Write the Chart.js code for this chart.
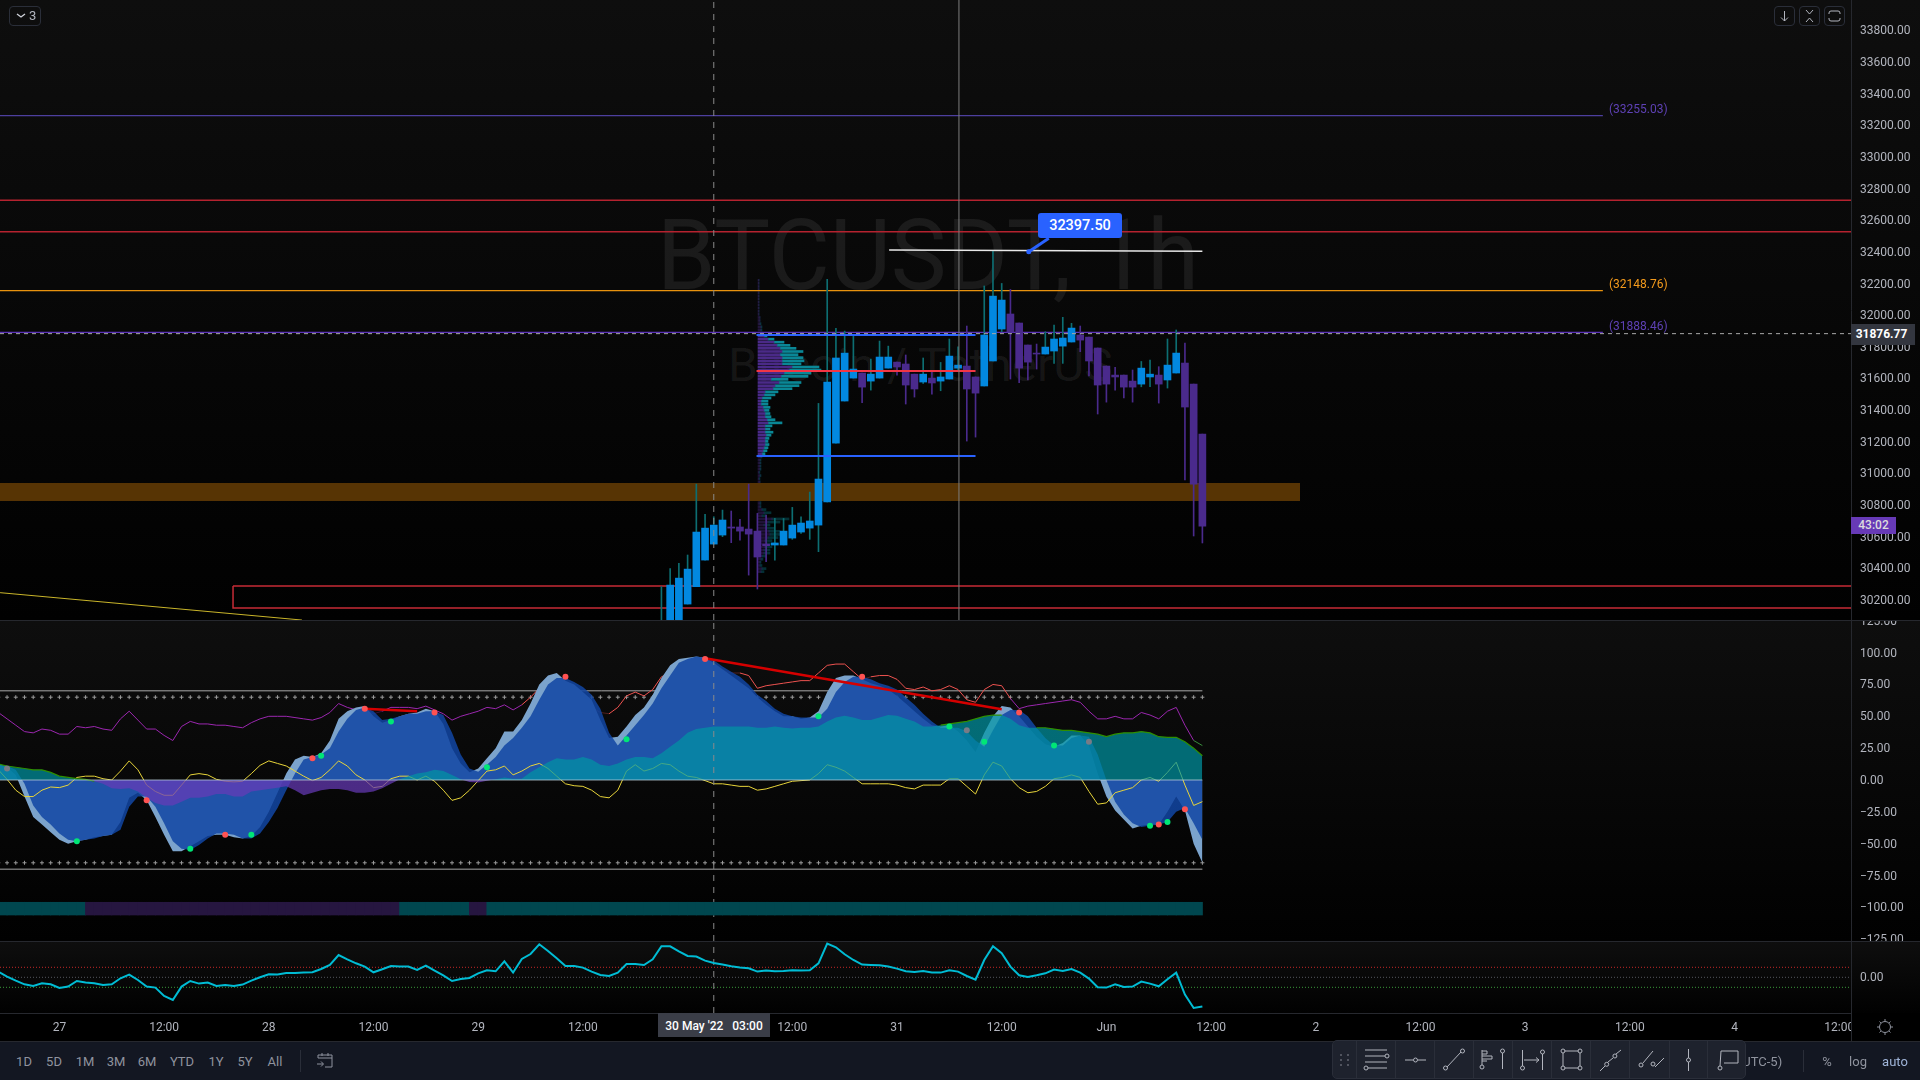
<!DOCTYPE html>
<html>
<head>
<meta charset="utf-8">
<title>BTCUSDT, 1h</title>
<script src="https://cdn.jsdelivr.net/npm/chart.js@4"></script>
<style>
    html, body { margin: 0; background: #000; }
    #stage { position: relative; width: 1920px; height: 1080px; overflow: hidden; font-family: Roboto, sans-serif; color: #b2b5be; }
    #stage canvas { position: absolute; left: 0; }
    .abs { position: absolute; }
    .paneBg { position: absolute; left: 0; width: 1920px; background: linear-gradient(#0e0e0e, #010101); }
    .sep { position: absolute; left: 0; width: 1920px; height: 1px; background: #26282e; }
    .mark { position: absolute; color: rgba(255,255,255,0.075); white-space: nowrap; transform-origin: left top; }
    .note { position: absolute; font-size: 12px; white-space: nowrap; }
    .tbBtn { position: absolute; top: 1054px; font-size: 13px; color: #8f939e; transform: translateX(-50%); }
    .iconBtn { position: absolute; top: 6px; width: 21px; height: 20px; border: 1px solid #2a2e39; border-radius: 4px; box-sizing: border-box; }
</style>
</head>
<body>
<div id="stage">
    <div class="paneBg" style="top:0;height:620px"></div>
    <div class="paneBg" style="top:620px;height:321px"></div>
    <div class="paneBg" style="top:941px;height:72px"></div>

    <div class="mark" style="left:657px;top:198px;font-size:98px;transform:scaleX(0.957)">BTCUSDT, 1h</div>
    <div class="mark" style="left:728px;top:338px;font-size:46px;transform:scaleX(1.04)">Bitcoin / TetherUS</div>

    <canvas id="vpChart" width="1851" height="620" style="top:0"></canvas>
    <canvas id="mainChart" width="1920" height="620" style="top:0"></canvas>
    <canvas id="oscChart" width="1920" height="321" style="top:620px"></canvas>
    <canvas id="momChart" width="1920" height="100" style="top:941px"></canvas>

    <div class="sep" style="top:620px"></div>
    <div class="sep" style="top:941px"></div>
    <div class="sep" style="top:1013px"></div>

    <!-- line notes -->
    <div class="note" style="left:1609px;top:102px;color:#5e41b5">(33255.03)</div>
    <div class="note" style="left:1609px;top:277px;color:#f59b1c">(32148.76)</div>
    <div class="note" style="left:1609px;top:319px;color:#5e41b5">(31888.46)</div>

    <!-- callout -->
    <div class="abs" style="left:1038px;top:213px;width:84px;height:25px;background:#2962ff;border-radius:3px;color:#fff;font-size:14.5px;font-weight:500;line-height:25px;text-align:center">32397.50</div>

    <!-- price tags -->
    <div class="abs" style="left:1851px;top:324px;width:64px;height:21px;background:#33363f;color:#fff;font-size:12px;font-weight:700;line-height:21px;text-align:center;padding-right:3px;box-sizing:border-box">31876.77</div>
    <div class="abs" style="left:1851px;top:517px;width:45px;height:17px;background:#673ab7;color:#ddd;font-size:12px;font-weight:500;line-height:17px;text-align:center">43:02</div>

    <!-- top buttons -->
    <div class="iconBtn" style="left:9px;top:6px;width:32px;font-size:13px;line-height:18px;padding-left:19px"><svg class="abs" style="left:5px;top:0" width="12" height="18" fill="none" stroke="#d1d4dc" stroke-width="1.3"><path d="M2 7l4 3 4-3"/></svg>3</div>
    <div class="iconBtn" style="left:1774px"><svg width="19" height="18" fill="none" stroke="#b2b5be"><path d="M9.5 4v10M6 10.5l3.5 3.5 3.5-3.5"/></svg></div>
    <div class="iconBtn" style="left:1799px"><svg width="19" height="18" fill="none" stroke="#b2b5be"><path d="M6 3l3.5 4 3.5-4M6 15l3.5-4 3.5 4"/></svg></div>
    <div class="iconBtn" style="left:1824px"><svg width="19" height="18" fill="none" stroke="#b2b5be"><path d="M4 7V6a2 2 0 0 1 2-2h7a2 2 0 0 1 2 2v1M4 11v1a2 2 0 0 0 2 2h7a2 2 0 0 0 2-2v-1"/></svg></div>

    <!-- crosshair time badge -->
    <div class="abs" style="left:658px;top:1013px;width:112px;height:24px;background:#3a3d47;color:#fff;font-size:12px;font-weight:500;line-height:26px;text-align:center;white-space:pre">30 May '22   03:00</div>

    <!-- axis corner -->
    <div class="abs" style="left:1851px;top:1013px;width:69px;height:28px;background:#000;border-left:1px solid #26282e;box-sizing:border-box">
        <svg width="68" height="28" fill="none" stroke="#8f939e"><circle cx="33" cy="14" r="5.5"/><path d="M33 6v2M33 20v2M25 14h2M39 14h2M27.5 8.5l1.4 1.4M37.1 18.1l1.4 1.4M38.5 8.5l-1.4 1.4M28.9 18.1l-1.4 1.4"/></svg>
    </div>

    <!-- bottom toolbar -->
    <div class="abs" style="left:0;top:1041px;width:1920px;height:39px;background:#131722;border-top:1px solid #26282e;box-sizing:border-box"></div>
    <div class="tbBtn" style="left:24px">1D</div>
    <div class="tbBtn" style="left:54px">5D</div>
    <div class="tbBtn" style="left:85px">1M</div>
    <div class="tbBtn" style="left:116px">3M</div>
    <div class="tbBtn" style="left:147px">6M</div>
    <div class="tbBtn" style="left:182px">YTD</div>
    <div class="tbBtn" style="left:216px">1Y</div>
    <div class="tbBtn" style="left:245px">5Y</div>
    <div class="tbBtn" style="left:275px">All</div>
    <div class="abs" style="left:300px;top:1050px;width:1px;height:22px;background:#2a2e39"></div>
    <svg class="abs" style="left:316px;top:1051px" width="20" height="20" fill="none" stroke="#8f939e"><path d="M2 7V4h14v12h-7M2 7h14M6 2v3M12 2v3M1 13h6M5 10.5L7.5 13 5 15.5"/></svg>

    <div class="tbBtn" style="left:1760px;">(UTC-5)</div>
    <div class="abs" style="left:1803px;top:1050px;width:1px;height:22px;background:#2a2e39"></div>
    <div class="tbBtn" style="left:1827px">%</div>
    <div class="tbBtn" style="left:1858px">log</div>
    <div class="tbBtn" style="left:1895px;color:#9fb4d8">auto</div>

    <!-- floating drawing toolbar -->
    <div class="abs" style="left:1332px;top:1040px;width:414px;height:39px;background:#1e222d;border-radius:5px;border:1px solid #2a2e39;box-sizing:border-box"></div>
    <svg class="abs" style="left:1332px;top:1040px" width="414" height="39" fill="none" stroke="#b2b5be">
        <g stroke="#2a2e39"><path d="M24.5 0v39M63.5 0v39M102.5 0v39M141.5 0v39M180.5 0v39M219.5 0v39M258.5 0v39M297.5 0v39M337.5 0v39M375.5 0v39"/></g>
        <g fill="#50535e" stroke="none"><rect x="8" y="14" width="2" height="2"/><rect x="15" y="14" width="2" height="2"/><rect x="8" y="19" width="2" height="2"/><rect x="15" y="19" width="2" height="2"/><rect x="8" y="24" width="2" height="2"/><rect x="15" y="24" width="2" height="2"/></g>
        <path d="M33 10h22M33 16h20M33 22h22M36 28h19"/><circle cx="55" cy="16" r="2"/><circle cx="34" cy="28" r="2"/>
        <path d="M73 20h8M86 20h8"/><circle cx="83.5" cy="20" r="2"/>
        <path d="M115 27l14-15"/><circle cx="113.5" cy="28" r="2"/><circle cx="130.5" cy="11" r="2"/>
        <path d="M150 10v15M150 11h5v3h-5M150 16h10v3h-10M150 21h5"/><circle cx="150" cy="27" r="2"/><path d="M170.5 13v16"/><circle cx="170.5" cy="11" r="2"/>
        <path d="M190.5 10v16M192 20h15M204 17.5l3 2.5-3 2.5M210.5 14v16"/><circle cx="190.5" cy="28" r="2"/><circle cx="210.5" cy="12" r="2"/>
        <path d="M232.5 11h14M232.5 28h14M231 13v13M248 13v13"/><circle cx="231" cy="11" r="2"/><circle cx="248" cy="11" r="2"/><circle cx="231" cy="28" r="2"/><circle cx="248" cy="28" r="2"/>
        <path d="M268 31l5-5M276 22l5-4M284 14l5-4"/><circle cx="274.7" cy="24.3" r="2"/><circle cx="282.9" cy="16" r="2"/>
        <path d="M311 23l10-12M323 27l9-9"/><circle cx="309" cy="25" r="2"/><circle cx="321" cy="24" r="2"/>
        <path d="M356.5 9v9M356.5 22v9"/><circle cx="356.5" cy="20" r="2"/>
        <path d="M388 26l1-15h17v12h-14"/><circle cx="388" cy="28" r="2"/>
    </svg>
</div>

<script>
// BTCUSDT 1h, three stacked panes.
// x is hours since 27 May 00:00

const hours = Array.from({ length: 139 }, (_, i) => i - 7);

const timeTickHours = [0, 12, 24, 36, 48, 60, 72, 84, 96, 108, 120, 132, 144, 156, 168, 180, 192, 204];
const timeTickLabels = ['27', '12:00', '28', '12:00', '29', '12:00', '30', '12:00', '31', '12:00', 'Jun', '12:00', '2', '12:00', '3', '12:00', '4', '12:00'];
const priceTicks = [33800, 33600, 33400, 33200, 33000, 32800, 32600, 32400, 32200, 32000, 31800, 31600, 31400, 31200, 31000, 30800, 30600, 30400, 30200];
const oscTicks = [125, 100, 75, 50, 25, 0, -25, -50, -75, -100, -125];
const momTicks = [0];

// --- Candles, one per hour ---

const candleHours = [69, 70, 71, 72, 73, 74, 75, 76, 77, 78, 79, 80, 81, 82, 83, 84, 85, 86, 87, 88, 89, 90, 91, 92, 93, 94, 95, 96, 97, 98, 99, 100, 101, 102, 103, 104, 105, 106, 107, 108, 109, 110, 111, 112, 113, 114, 115, 116, 117, 118, 119, 120, 121, 122, 123, 124, 125, 126, 127, 128, 129, 130, 131];
const opens = [29772, 30004, 30004, 30168, 30278, 30446, 30547, 30604, 30655, 30655, 30642, 30629, 30547, 30541, 30541, 30585, 30623, 30648, 30667, 30813, 31185, 31451, 31596, 31628, 31577, 31596, 31659, 31697, 31685, 31621, 31571, 31596, 31577, 31590, 31659, 31672, 31603, 31546, 31704, 31906, 32001, 31944, 31805, 31754, 31748, 31767, 31798, 31824, 31868, 31855, 31786, 31672, 31615, 31615, 31577, 31558, 31603, 31615, 31584, 31628, 31691, 31558, 31242];
const highs = [30278, 30393, 30425, 30478, 30926, 30735, 30720, 30762, 30756, 30703, 30926, 30741, 30730, 30709, 30709, 30779, 30720, 30876, 31436, 32220, 31910, 31893, 31868, 31628, 31716, 31830, 31798, 31697, 31742, 31621, 31723, 31636, 31695, 31843, 31794, 31925, 31603, 32178, 32399, 32194, 32156, 31944, 31805, 31811, 31889, 31931, 31980, 31942, 31925, 31855, 31786, 31672, 31664, 31615, 31647, 31701, 31710, 31668, 31843, 31900, 31817, 31558, 31242];
const lows = [29772, 29983, 30004, 30168, 30278, 30446, 30547, 30594, 30556, 30572, 30351, 30263, 30436, 30446, 30541, 30577, 30615, 30577, 30499, 30813, 31185, 31451, 31596, 31440, 31520, 31596, 31659, 31615, 31432, 31476, 31562, 31495, 31516, 31590, 31647, 31198, 31223, 31546, 31704, 31889, 31590, 31567, 31584, 31653, 31748, 31689, 31689, 31824, 31763, 31609, 31369, 31444, 31520, 31470, 31444, 31541, 31541, 31438, 31533, 31628, 30952, 30598, 30554];
const closes = [30004, 30288, 30332, 30389, 30623, 30648, 30667, 30699, 30648, 30629, 30610, 30465, 30537, 30554, 30629, 30667, 30680, 30693, 30958, 31571, 31723, 31754, 31653, 31539, 31621, 31729, 31729, 31666, 31552, 31527, 31621, 31565, 31603, 31735, 31678, 31527, 31501, 31868, 32114, 32089, 31887, 31659, 31697, 31748, 31792, 31843, 31849, 31912, 31836, 31704, 31552, 31558, 31603, 31539, 31539, 31659, 31621, 31558, 31678, 31754, 31413, 30926, 30661];

// --- Volume profile rows ---

const vpPrices = [31862, 31842, 31823, 31803, 31784, 31764, 31744, 31725, 31705, 31686, 31666, 31646, 31627, 31607, 31588, 31568, 31548, 31529, 31509, 31490, 31470, 31450, 31431, 31411, 31392, 31372, 31352, 31333, 31313, 31294, 31274, 31254, 31235, 31215, 31196, 31176, 31156, 31137, 31118];
const vpDown = [6, 10, 16, 19, 22, 24, 22, 24, 24, 24, 34, 31, 26, 23, 13, 21, 17, 15, 7, 6, 4, 3, 3, 5, 6, 7, 7, 9, 10, 7, 7, 7, 8, 7, 7, 7, 6, 5, 4];
const vpUp = [3, 6, 10, 13, 16, 21, 18, 21, 22, 19, 27, 32, 27, 27, 17, 22, 24, 19, 13, 11, 9, 7, 7, 7, 5, 5, 6, 8, 14, 7, 5, 8, 5, 4, 3, 4, 4, 4, 3];

const vpFaintPrices = [32214, 32195, 32175, 32156, 32136, 32116, 32097, 32077, 32058, 32038, 32018, 31999, 31979, 31960, 31940, 31920, 31901, 31881, 31098, 31078, 31059, 31039, 31020, 31000, 30980, 30961, 30941, 30922, 30902, 30882, 30863, 30843, 30824, 30804, 30784, 30765, 30745, 30726, 30706, 30686, 30667, 30647, 30628, 30608, 30588, 30569, 30549, 30530, 30510, 30490, 30471, 30451, 30432, 30412, 30392, 30373];
const vpFaintDown = [1, 1, 1, 1, 1, 1, 1, 1, 1, 1, 1, 1, 2, 2, 2, 3, 3, 3, 3, 2, 2, 2, 2, 1, 2, 1, 2, 2, 2, 1, 2, 2, 2, 2, 2, 4, 6, 4, 14, 10, 6, 8, 11, 12, 10, 7, 9, 7, 6, 6, 4, 3, 2, 2, 4, 3];
const vpFaintUp = [0, 0, 0, 0, 0, 0, 0, 0, 0, 0, 0, 0, 0, 0, 1, 1, 1, 1, 1, 1, 1, 1, 1, 1, 1, 1, 0, 1, 1, 1, 1, 1, 1, 1, 1, 4, 7, 4, 17, 12, 6, 8, 11, 13, 10, 7, 9, 7, 6, 6, 4, 2, 1, 2, 4, 3];

// --- Price levels ---

const purpleLevelHigh = 33255.03;
const redLevelHigh = 32720;
const redLevelLow = 32520;
const orangeLevel = 32148.76;
const purpleLevelLow = 31885;
const lastPrice = 31876.77;
const whiteLinePrices = [32405, 32397];
const whiteLineHours = [95.1, 131];
const brownBandPrices = [30933, 30819];
const redBoxPrices = [30282, 30143];
const redBoxStartHour = 19.9;
const trendLineHours = [-6.8, 27.8];
const trendLinePrices = [30240, 30067];
const vaHigh = 31868;
const poc = 31640;
const vaLow = 31103;
const vpStartHour = 79.9;
const vpEndHour = 105;
const levelEndHour = 176.9;
const bandEndHour = 142.2;
const calloutHours = [111.1, 113.4];
const calloutPrices = [32394, 32479];
const crosshairHour = 75;
const cursorHour = 103.1;

// --- Oscillator pane ---

const wave1 = [13, 10, 4, -13, -29, -35, -41,
    -47, -50, -48, -47, -45, -44, -43, -33, -14, -10,
    -16, -29, -43, -56, -56, -52, -48, -44, -43, -43,
    -45, -46, -44, -37, -25, -10, 5, 16, 19, 18,
    21, 31, 48, 54, 57, 58, 50, 45, 47, 50,
    52, 53, 56, 54, 44, 25, 13, 6, 9, 17,
    25, 38, 38, 47, 60, 75, 82, 84, 78, 75,
    69, 63, 47, 33, 34, 42, 51,
    57, 67, 80, 90, 95, 96, 97, 96, 92, 87, 82, 77, 72, 65, 59, 54, 50, 50, 48, 49, 54, 69, 80, 82, 82, 79, 76, 74, 71, 66, 60, 54, 48, 43, 42, 43, 38, 31, 22, 37, 50, 58, 57, 50, 42, 34, 28, 26, 29, 35, 35, 27, 5, -13, -24, -31, -38, -36, -35, -35, -25, -13, -24, -50, -65];
const wave2 = [12, 11, 8, -3, -20, -29, -35,
    -42, -47, -48, -47, -46, -44, -43, -39, -21, -13,
    -13, -21, -34, -48, -54, -55, -51, -46, -42, -42,
    -43, -46, -46, -42, -33, -22, -8, 5, 16, 18,
    20, 25, 38, 48, 55, 57, 54, 47, 48, 50,
    52, 52, 54, 54, 51, 37, 20, 9, 6.5, 12,
    18, 27, 33, 41, 50, 63, 75, 80, 80, 77,
    73, 67, 56, 37, 27, 35, 43,
    51, 60, 72, 82, 92, 95, 97, 96, 94, 89, 85, 81, 75, 67, 62, 56, 52, 50, 49, 49, 49, 56, 69, 77, 81, 81, 79, 76, 74, 71, 65, 59, 52, 46, 41, 41, 41, 38, 31, 26, 39, 51, 55, 55, 50, 41, 33, 27, 27, 33, 35, 34, 20, 0, -17, -27, -34, -37, -36, -35, -33, -25, -22, -34, -47];
const moneyFlow = [12.5, 11, 10, 9, 8, 8, 6,
    3, 2, 1, 0.5, -1, -3, -6.5, -7, -6.5, -9,
    -14, -18, -20, -20, -17, -14, -14, -13, -11, -11,
    -13, -13, -9, -8, -7, -6, -5, -8, -12, -10,
    -8, -7, -7, -8, -10, -10, -9, -6.5, -3, 0.5,
    3, 5, 6, 8, 7, 4, 0.5, -1.5, -2, -0.5,
    0.5, 2, 1, 1, 6, 10, 14, 17, 16, 16,
    18, 16, 12, 11, 13, 16, 18,
    18, 17, 21, 26, 31, 37, 40, 41, 42, 42, 42, 42, 42, 41, 41, 42, 41, 40.5, 41, 41, 42, 46, 49, 50.5, 49, 47, 47, 49, 51, 50.5, 48, 46, 42, 42, 43, 44, 45, 46, 48, 50, 51, 51, 48, 43, 41, 41, 41, 40, 39, 39, 38, 37, 36, 34, 36, 37, 37, 38, 37, 34, 33.5, 33.5, 30, 25, 19];
const rsi = [53, 48, 43, 38, 37, 40, 39,
    36, 36, 42, 41, 42, 40, 39, 48, 54, 47,
    40, 40, 35, 31, 42, 46, 44, 44, 43, 43,
    42, 41, 45, 48, 50, 50, 50, 49, 48, 47,
    49, 53, 60, 57, 55, 54, 52, 54, 57, 57,
    57, 56, 58, 55, 52, 47, 50, 52, 54, 57,
    56, 59, 55, 59, 65, 72, 74, 69, 62, 63,
    63, 57, 53, 52, 57, 66, 69,
    66, 71, 81, 84, 85, 88, 88, 88, 87, 86, 84, 84, 82, 72, 74, 75, 76, 77, 78, 78, 84, 90, 91, 91, 85, 79, 81, 82, 82, 79, 72, 71, 73, 70, 71, 74, 71, 63, 61, 71, 75, 74, 64, 56, 58, 59, 60, 61, 62, 63, 61, 54, 48, 48, 50, 48, 48, 53, 51, 48, 54, 57, 43, 31, 27];
const stoch = [8, 0.5, -8, -13, -13, -8, -5.5,
    -6, -4, 2, 3, 3, 1, 0, 7, 15, 8,
    -4, -9, -12, -12, -4, 4, 5, 4, 0.5, -1,
    -1.5, -1, 5, 11.5, 15, 13, 11, 7, 3, -0.5,
    2, 8, 15, 11, 4, 0, -6, -5, 1, 3,
    3, 0, 3, -1, -8, -16, -14, -8, -0.5, 7,
    8, 11, 4, 7, 11, 13, 9, 3, -3, -4.5,
    -5, -8, -13, -14, -8, 7, 12,
    7, 9, 13, 12, 7, 3, 2, -0.5, -3, -3, -4, -5, -5, -8, -7, -5, -3, -1, -0.5, 0, 5, 12, 10, 7, 2, -3, -3, -3, -3, -4, -6, -7, -4, -4, -4, 1, 1, -5, -11, 4, 14, 11, 1, -6, -10, -9, -5, 1, 2, 4, 2, -9, -19, -18, -10, -8, -6, 0, 2, -1, 6, 14, -4, -20, -17];

const greenDotHours = [2, 15, 22, 30, 38, 49, 65, 87, 102, 106, 114, 125, 127];
const greenDotValues = [-48, -54, -43, 19, 46, 10, 32, 50, 42, 30, 27, -36, -33];
const redDotHours = [10, 19, 29, 35, 43, 58, 74, 92, 110, 126, 129];
const redDotValues = [-16, -43, 17, 56, 53, 81, 95, 81, 53, -35, -23];
const greyDotHours = [-6, 104, 118];
const greyDotValues = [9, 39, 30];

const divergenceHours = [[35, 41], [74, 108]];
const divergenceValues = [[56, 54], [95.5, 55.5]];

const bandOuter = 70;
const bandInner = 65;
const stripValues = [-106, -96];
const stripPurpleHours = [4, 5, 6, 7, 8, 9, 10, 11, 12, 13, 14, 15, 16, 17, 18, 19, 20, 21, 22, 23, 24, 25, 26, 27, 28, 29, 30, 31, 32, 33, 34, 35, 36, 37, 38, 39, 48, 49];

// --- Momentum pane ---

const momentum = [5.7, 0.7, -3.3, -7, -8.7, -6, -7,
    -10.7, -9.3, -3.7, -5.3, -6, -7.7, -7, -1, 2.7, -2.7,
    -9.3, -10.3, -18.7, -22.7, -9.3, -3.7, -6.3, -5.3, -8.7, -7.7,
    -8.7, -7.3, -3.3, 0, 3, 2.7, 4.3, 4.3, 4.7, 5,
    8.3, 12.3, 22.3, 18, 14, 10.7, 5, 8, 11.3, 10.7,
    10.7, 7.3, 11.7, 6.7, 2, -3.7, -1.7, -0.7, 4, 7,
    6, 16, 4.7, 18.3, 23.3, 33, 26.3, 19, 11.3, 11.3,
    9.7, 5.7, 2.3, 1.3, 4.7, 13.3, 13.3,
    12.3, 18, 31, 31, 26, 21.3, 20.7, 16.7, 14.3, 12.7, 11, 9.7, 9, 5.7, 6.7, 6, 6.3, 7, 6.7, 7, 14, 33.7, 30, 23, 17.3, 12.7, 12.3, 12, 10.7, 8.7, 6, 5.3, 6.3, 4.7, 4.7, 7, 5.7, 1.3, -2.3, 17.3, 31, 24, 10.7, 2, 0.3, 2, 4, 7.7, 6.3, 8.3, 4.7, -1.3, -10, -10.3, -7, -9.7, -9.3, -4.3, -6.3, -9, -2, 4.7, -17.3, -30.7, -29.3];
const momRed = 10;
const momGreen = -10;

// --- Scale ranges (the plot stops at the price axis, x = 1851) ---

const X_MIN = -6.808;
const X_MAX = 205.34;
const PRICE_MIN = 30067.3;
const PRICE_MAX = 33985.2;
const OSC_MIN = -126.4;
const OSC_MAX = 125.6;
const MOM_MIN = -35.7;
const MOM_MAX = 36.3;

const AXIS_WIDTH = 69;
const LINE_GREY = '#26282e';
const TICK_COLOR = '#b2b5be';
const TICK_FONT = { family: 'Roboto', size: 12 };

// --- Helpers ---

function zip(xs, ys) {
    return xs.map((x, i) => ({ x: x, y: ys[i] }));
}

function line(xs, ys, color, width, extra) {
    return Object.assign({
        type: 'line',
        data: zip(xs, ys),
        borderColor: color,
        borderWidth: width,
        pointRadius: 0,
        tension: 0,
        fill: false
    }, extra || {});
}

function level(price, color, width, endHour, extra) {
    return line([X_MIN, endHour], [price, price], color, width, extra);
}

function dots(xs, ys, color) {
    return {
        type: 'line',
        data: zip(xs, ys),
        showLine: false,
        pointRadius: 3,
        pointBackgroundColor: color,
        pointBorderWidth: 0
    };
}

// tick labels must not push the plot area in, the panes butt together
function noMargins(scale) {
    scale.paddingTop = 0;
    scale.paddingBottom = 0;
    scale.paddingLeft = 0;
    scale.paddingRight = 0;
}

function timeAxis(visible) {
    return {
        type: 'linear',
        min: X_MIN,
        max: X_MAX,
        offset: false,
        display: visible,
        grid: { display: false, drawTicks: false },
        border: { display: false },
        afterBuildTicks: (scale) => { scale.ticks = timeTickHours.map(v => ({ value: v })); },
        afterFit: (scale) => {
            noMargins(scale);
            if (visible) scale.height = 28;
        },
        ticks: {
            autoSkip: false,
            maxRotation: 0,
            padding: 8,
            color: TICK_COLOR,
            font: TICK_FONT,
            callback: (v) => timeTickLabels[timeTickHours.indexOf(v)]
        }
    };
}

function valueAxis(min, max, tickValues, format, labelShift) {
    return {
        type: 'linear',
        position: 'right',
        min: min,
        max: max,
        grid: { display: false, drawTicks: false },
        border: { display: true, color: LINE_GREY },
        afterBuildTicks: (scale) => { scale.ticks = tickValues.map(v => ({ value: v })); },
        afterFit: (scale) => {
            noMargins(scale);
            scale.width = AXIS_WIDTH;
        },
        ticks: {
            autoSkip: false,
            padding: 9,
            labelOffset: labelShift,
            color: TICK_COLOR,
            font: TICK_FONT,
            callback: format
        }
    };
}

const formatPrice = (v) => v.toFixed(2).replace('-', '\u2212');

function makeChart(id, datasets, yAxis, showTime) {
    return new Chart(document.getElementById(id), {
        type: 'line',
        data: { datasets: datasets },
        options: {
            responsive: false,
            animation: false,
            devicePixelRatio: 1,
            events: [],
            layout: { padding: 0, autoPadding: false },
            plugins: { legend: { display: false }, tooltip: { enabled: false } },
            scales: { x: timeAxis(showTime), y: yAxis }
        }
    });
}

// --- Volume profile, its own horizontal bar chart under the candles ---

function vpBars(prices, lengths, color) {
    return {
        data: prices.map((p, i) => ({ x: lengths[i], y: p })),
        backgroundColor: color,
        barThickness: 2,
        stack: 'vp'
    };
}

new Chart(document.getElementById('vpChart'), {
    type: 'bar',
    data: {
        datasets: [
            vpBars(vpPrices, vpDown, '#4a2a88'),
            vpBars(vpPrices, vpUp, '#0a8796'),
            vpBars(vpFaintPrices, vpFaintDown, 'rgba(74,42,136,0.4)'),
            vpBars(vpFaintPrices, vpFaintUp, 'rgba(10,135,150,0.35)')
        ]
    },
    options: {
        indexAxis: 'y',
        responsive: false,
        animation: false,
        devicePixelRatio: 1,
        events: [],
        layout: { padding: 0, autoPadding: false },
        plugins: { legend: { display: false }, tooltip: { enabled: false } },
        scales: {
            x: { type: 'linear', stacked: true, min: -758, max: 1093, display: false },
            y: { type: 'linear', min: PRICE_MIN, max: PRICE_MAX, offset: false, display: false }
        }
    }
});

// --- Main pane ---

const UP_BODY = '#0288e0';
const UP_WICK = '#0d6e72';
const DOWN_BODY = '#4a2a8c';

const isUp = candleHours.map((_, i) => closes[i] >= opens[i]);

// first dataset in the list is drawn on top
makeChart('mainChart', [
    line(calloutHours, calloutPrices, '#2962ff', 3, { pointRadius: [2.5, 0], pointBackgroundColor: '#2962ff', pointBorderWidth: 0 }),
    line(whiteLineHours, whiteLinePrices, '#e8e8e8', 1.5),
    line([cursorHour, cursorHour], [PRICE_MIN, PRICE_MAX], '#7d7d7d', 1),
    line([crosshairHour, crosshairHour], [PRICE_MIN, PRICE_MAX], '#8a8a8a', 1, { borderDash: [6, 6] }),
    level(lastPrice, '#a8a8a8', 1, X_MAX, { borderDash: [4, 4] }),
    line([vpStartHour, vpEndHour], [vaHigh, vaHigh], '#2962ff', 2),
    line([vpStartHour, vpEndHour], [vaLow, vaLow], '#2962ff', 2),
    line([vpStartHour, vpEndHour], [poc, poc], '#f23645', 2),
    {
        type: 'bar',
        data: candleHours.map((h, i) => ({ x: h, y: [Math.min(opens[i], closes[i]), Math.max(opens[i], closes[i])] })),
        backgroundColor: isUp.map(u => u ? UP_BODY : DOWN_BODY),
        barThickness: 7,
        grouped: false
    },
    {
        type: 'bar',
        data: candleHours.map((h, i) => ({ x: h, y: [lows[i], highs[i]] })),
        backgroundColor: isUp.map(u => u ? UP_WICK : DOWN_BODY),
        barThickness: 1,
        grouped: false
    },
    level(purpleLevelLow, '#5c33b8', 1.2, levelEndHour),
    level(orangeLevel, '#e8920e', 1.2, levelEndHour),
    level(purpleLevelHigh, '#4d3f9e', 1.2, levelEndHour),
    level(redLevelHigh, '#b5222f', 1.5, X_MAX),
    level(redLevelLow, '#b5222f', 1.5, X_MAX),
    line([redBoxStartHour, X_MAX + 1, X_MAX + 1, redBoxStartHour, redBoxStartHour],
        [redBoxPrices[0], redBoxPrices[0], redBoxPrices[1], redBoxPrices[1], redBoxPrices[0]], '#c62b36', 1.5),
    line(trendLineHours, trendLinePrices, '#c9b52a', 1),
    level(brownBandPrices[0], 'rgba(0,0,0,0)', 0, bandEndHour, {
        fill: { target: { value: brownBandPrices[1] } },
        backgroundColor: '#573404'
    })
], valueAxis(PRICE_MIN, PRICE_MAX, priceTicks, formatPrice, 2), false);

// --- Oscillator pane ---

// RSI goes red for the stretch of the run-up, green on the last hour, and sits behind the waves
function rsiColor(ctx) {
    const h = ctx.p0.parsed.x;
    const i = hours.indexOf(h);
    const hidden = rsi[i] < Math.max(wave1[i], wave2[i]) && rsi[i] > 0;
    let c = '156,39,176';
    if (h >= 53 && h < 109) c = '239,83,80';
    if (h >= 130) c = '56,142,60';
    return `rgba(${c},${hidden ? 0.3 : 1})`;
}

// green edge on the flow area only shows where it clears the waves
function flowEdge(ctx) {
    const i = hours.indexOf(ctx.p0.parsed.x);
    if (moneyFlow[i] <= 0) return 'rgba(0,0,0,0)';
    return moneyFlow[i] >= Math.max(wave1[i], wave2[i]) - 1 ? '#2f8f00' : 'rgba(0,0,0,0)';
}

makeChart('oscChart', [
    dots(redDotHours, redDotValues, '#ff5252'),
    dots(greenDotHours, greenDotValues, '#00e676'),
    dots(greyDotHours, greyDotValues, '#787b86'),
    line(divergenceHours[0], divergenceValues[0], '#d50000', 2.5),
    line(divergenceHours[1], divergenceValues[1], '#d50000', 2.5),
    {
        type: 'bar',
        // each block closes on its hour
        data: hours.map(h => ({ x: h - 0.5, y: stripValues })),
        backgroundColor: hours.map(h => stripPurpleHours.includes(h) ? '#261640' : '#00474f'),
        barThickness: 9,
        grouped: false
    },
    line([crosshairHour, crosshairHour], [OSC_MIN, OSC_MAX], '#8a8a8a', 1, { borderDash: [6, 6] }),
    line([X_MIN, 131], [0, 0], 'rgba(190,210,220,0.75)', 1.2),
    line(hours, moneyFlow, '#2f8f00', 1.2, { segment: { borderColor: flowEdge } }),
    line(hours, moneyFlow, 'rgba(0,0,0,0)', 0, {
        fill: { target: 'origin', above: 'rgba(0,150,164,0.7)', below: 'rgba(103,58,183,0.72)' }
    }),
    line(hours, stoch, '#e8d53a', 1),
    line(hours, wave2, 'rgba(0,0,0,0)', 0, { fill: { target: 'origin', above: 'rgba(17,70,163,0.86)', below: 'rgba(17,70,163,0.86)' } }),
    line(hours, wave1, 'rgba(0,0,0,0)', 0, { fill: { target: 'origin', above: '#7ba3cc', below: '#7ba3cc' } }),
    line(hours, rsi, '#9c27b0', 1, { segment: { borderColor: rsiColor } }),
    line([X_MIN, 131], [bandOuter, bandOuter], '#a8a8a8', 1),
    line([X_MIN, 131], [-bandOuter, -bandOuter], '#a8a8a8', 1),
    line(hours, hours.map(() => bandInner), '#999', 1, { showLine: false, pointStyle: 'cross', pointRadius: 2, pointBorderColor: '#9a9a9a', pointBorderWidth: 1 }),
    line(hours, hours.map(() => -bandInner), '#999', 1, { showLine: false, pointStyle: 'cross', pointRadius: 2, pointBorderColor: '#9a9a9a', pointBorderWidth: 1 })
], valueAxis(OSC_MIN, OSC_MAX, oscTicks, formatPrice, 1), false);

// --- Momentum pane, carries the time axis ---

makeChart('momChart', [
    line(hours, momentum, '#00bcd4', 2),
    line([crosshairHour, crosshairHour], [MOM_MIN, MOM_MAX], '#8a8a8a', 1, { borderDash: [6, 6] }),
    level(momRed, '#c62828', 1, X_MAX, { borderDash: [1, 2] }),
    level(0, '#55585f', 1, X_MAX, { borderDash: [1, 2] }),
    level(momGreen, '#3a9a3a', 1, X_MAX, { borderDash: [1, 2] })
], valueAxis(MOM_MIN, MOM_MAX, momTicks, formatPrice, 1), true);
</script>
</body>
</html>
